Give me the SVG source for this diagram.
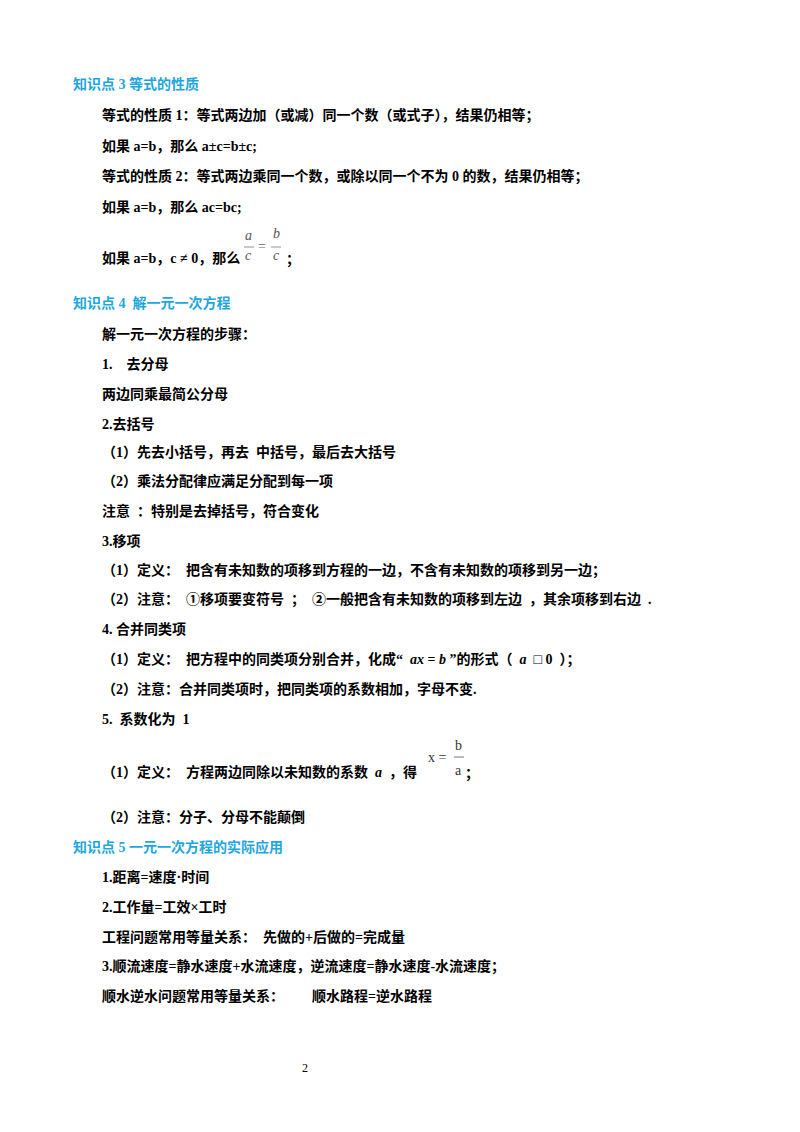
<svg xmlns="http://www.w3.org/2000/svg" width="800" height="1132" viewBox="0 0 800 1132">
<style>
text{font-family:"Liberation Serif","Noto Sans CJK SC",serif;font-size:14px;font-weight:bold;fill:#000;white-space:pre}
.h{fill:#1ea6e0}
.m{font-weight:normal;font-style:italic;fill:#555;font-size:14px}
.r{font-weight:normal;font-size:14px}
</style>
<rect width="800" height="1132" fill="#fff"/>
<text class="h" x="73" y="89">知识点 3 等式的性质</text>
<text x="102" y="120">等式的性质 1：等式两边加（或减）同一个数（或式子），结果仍相等；</text>
<text x="102" y="151">如果 a=b，那么 a±c=b±c;</text>
<text x="102" y="181">等式的性质 2：等式两边乘同一个数，或除以同一个不为 0 的数，结果仍相等；</text>
<text x="102" y="212">如果 a=b，那么 ac=bc;</text>
<text x="102" y="263">如果 a=b，c ≠ 0，那么</text>
<text class="m" x="245" y="240">a</text>
<line x1="244" y1="247" x2="254" y2="247" stroke="#777" stroke-width="0.8"/>
<text class="m" x="245" y="260">c</text>
<text class="r" x="258" y="251" style="fill:#666">=</text>
<text class="m" x="273" y="238">b</text>
<line x1="271" y1="247" x2="281" y2="247" stroke="#777" stroke-width="0.8"/>
<text class="m" x="273" y="260">c</text>
<text x="286" y="264">；</text>
<text class="h" x="73" y="308">知识点 4  解一元一次方程</text>
<text x="102" y="339">解一元一次方程的步骤：</text>
<text x="102" y="369">1.    去分母</text>
<text x="102" y="399">两边同乘最简公分母</text>
<text x="102" y="429">2.去括号</text>
<text x="102" y="457">（1）先去小括号，再去  中括号，最后去大括号</text>
<text x="102" y="486">（2）乘法分配律应满足分配到每一项</text>
<text x="102" y="516">注意  ：特别是去掉括号，符合变化</text>
<text x="102" y="546">3.移项</text>
<text x="102" y="575">（1）定义：  把含有未知数的项移到方程的一边，不含有未知数的项移到另一边；</text>
<text x="102" y="604">（2）注意：  ①移项要变符号  ；  ②一般把含有未知数的项移到左边  ，其余项移到右边  .</text>
<text x="102" y="634">4. 合并同类项</text>
<text x="102" y="664">（1）定义：  把方程中的同类项分别合并，化成“  <tspan font-style="italic">ax</tspan> = <tspan font-style="italic">b</tspan> ”的形式（  <tspan font-style="italic">a</tspan>  □ 0  ）；</text>
<text x="102" y="694">（2）注意：合并同类项时，把同类项的系数相加，字母不变.</text>
<text x="102" y="724">5.  系数化为  1</text>
<text x="102" y="777">（1）定义：  方程两边同除以未知数的系数  <tspan font-style="italic">a</tspan>  ，得</text>
<text class="r" x="428" y="762" style="fill:#333">x =</text>
<text class="r" x="455" y="750" style="fill:#333">b</text>
<line x1="454" y1="757" x2="464" y2="757" stroke="#555" stroke-width="0.8"/>
<text class="r" x="455" y="775" style="fill:#333">a</text>
<text x="465" y="778">；</text>
<text x="102" y="822">（2）注意：分子、分母不能颠倒</text>
<text class="h" x="73" y="852">知识点 5 一元一次方程的实际应用</text>
<text x="102" y="882">1.距离=速度·时间</text>
<text x="102" y="912">2.工作量=工效×工时</text>
<text x="102" y="942">工程问题常用等量关系：  先做的+后做的=完成量</text>
<text x="102" y="971">3.顺流速度=静水速度+水流速度，逆流速度=静水速度-水流速度；</text>
<text x="102" y="1001">顺水逆水问题常用等量关系：        顺水路程=逆水路程</text>
<text x="302" y="1072" style="font-weight:normal;font-size:12px">2</text>
</svg>
